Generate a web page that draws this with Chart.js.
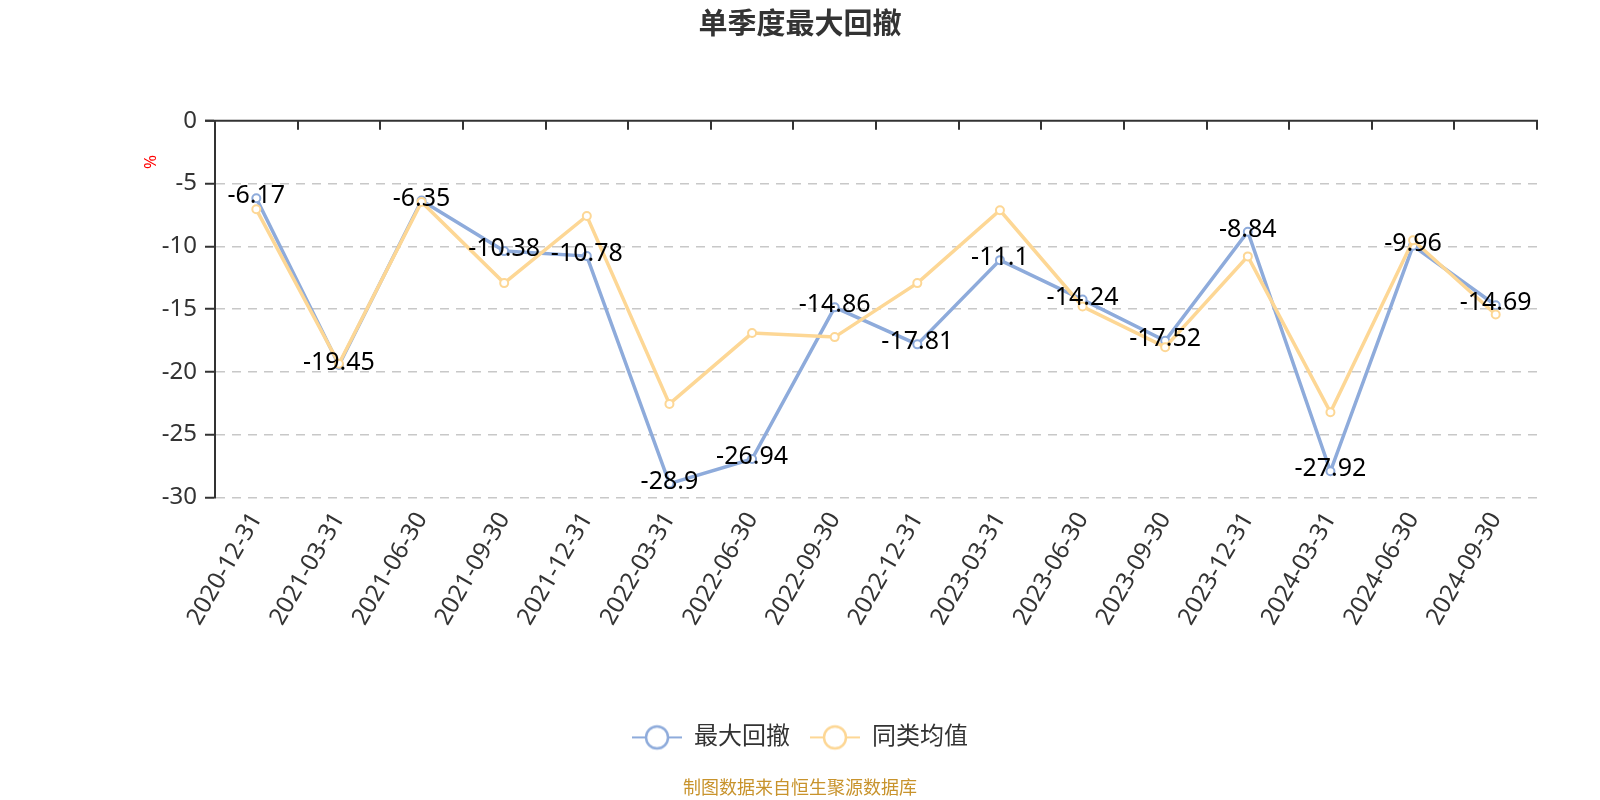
<!DOCTYPE html>
<html>
<head>
<meta charset="utf-8">
<script src="https://cdn.jsdelivr.net/npm/chart.js@4.4.1/dist/chart.umd.min.js"></script>
<style>
  html, body { margin: 0; padding: 0; background: #fff; }
  #wrap { width: 1600px; height: 800px; }
</style>
</head>
<body>
<div id="wrap"><canvas id="ddChart" width="1600" height="800"></canvas></div>
<script>
const quarters = ['2020-12-31', '2021-03-31', '2021-06-30', '2021-09-30', '2021-12-31', '2022-03-31',
  '2022-06-30', '2022-09-30', '2022-12-31', '2023-03-31', '2023-06-30', '2023-09-30',
  '2023-12-31', '2024-03-31', '2024-06-30', '2024-09-30'];
const maxDrawdown = [-6.17, -19.45, -6.35, -10.38, -10.78, -28.9, -26.94, -14.86, -17.81, -11.1,
  -14.24, -17.52, -8.84, -27.92, -9.96, -14.69];
const peerAvg = [-7.05, -19.35, -6.46, -12.93, -7.58, -22.55, -16.91, -17.23, -12.93, -7.13,
  -14.79, -18.03, -10.8, -23.22, -9.52, -15.43];
const seriesNames = ['最大回撤', '同类均值'];
const yMin = -30, yMax = 0, yStep = 5;

const BLUE = '#8eabdb';
const YELLOW = '#fdd795';
const FONT = '"Microsoft YaHei", "Noto Sans", "Noto Sans CJK SC", sans-serif';

Chart.defaults.font.family = FONT;

// legend icon: short line with a hollow circle
function legendIcon(color) {
  const c = document.createElement('canvas');
  c.width = 50; c.height = 28;
  const g = c.getContext('2d');
  g.strokeStyle = color;
  g.lineWidth = 2;
  g.beginPath(); g.moveTo(0, 14); g.lineTo(50, 14); g.stroke();
  g.beginPath(); g.arc(25, 14, 11, 0, Math.PI * 2);
  g.fillStyle = '#fff'; g.fill();
  g.lineWidth = 2.5; g.stroke();
  return c;
}
const icons = [legendIcon(BLUE), legendIcon(YELLOW)];

// top axis line at 0 with band ticks, plus the "%" unit
const axisDecor = {
  id: 'axisDecor',
  afterDatasetsDraw(chart) {
    const {ctx, chartArea: a, scales: {x, y}} = chart;
    const y0 = y.getPixelForValue(0);
    const band = x.getPixelForValue(1) - x.getPixelForValue(0);
    ctx.save();
    ctx.strokeStyle = '#333';
    ctx.lineWidth = 2;
    ctx.beginPath();
    ctx.moveTo(a.left - 10, y0);
    ctx.lineTo(a.right + 1, y0);
    for (let i = 0; i <= quarters.length; i++) {
      const px = Math.round(x.getPixelForValue(0) - band / 2 + i * band);
      ctx.moveTo(px, y0);
      ctx.lineTo(px, y0 + 9);
    }
    ctx.stroke();

    ctx.translate(151, 162);
    ctx.rotate(-Math.PI / 2);
    ctx.fillStyle = '#ff0000';
    ctx.font = '17px ' + FONT;
    ctx.textAlign = 'center';
    ctx.textBaseline = 'middle';
    ctx.fillText('%', 0, 0);
    ctx.restore();
  }
};

const valueLabels = {
  id: 'valueLabels',
  afterDatasetsDraw(chart) {
    const {ctx} = chart;
    const meta = chart.getDatasetMeta(0);
    if (meta.hidden) return;
    ctx.save();
    ctx.font = '25px ' + FONT;
    ctx.fillStyle = '#000';
    ctx.textAlign = 'center';
    ctx.textBaseline = 'middle';
    meta.data.forEach((pt, i) => {
      ctx.fillText(String(maxDrawdown[i]), pt.x, pt.y - 2);
    });
    ctx.restore();
  }
};

new Chart(document.getElementById('ddChart'), {
  type: 'line',
  data: {
    labels: quarters,
    datasets: [
      {
        label: seriesNames[0],
        data: maxDrawdown,
        borderColor: BLUE,
        backgroundColor: '#fff',
        borderWidth: 3.5,
        pointRadius: 4,
        pointBorderWidth: 2,
        pointBackgroundColor: '#fff',
        pointBorderColor: BLUE,
        tension: 0,
        order: 2
      },
      {
        label: seriesNames[1],
        data: peerAvg,
        borderColor: YELLOW,
        backgroundColor: '#fff',
        borderWidth: 3.5,
        pointRadius: 4,
        pointBorderWidth: 2,
        pointBackgroundColor: '#fff',
        pointBorderColor: YELLOW,
        tension: 0,
        order: 1
      }
    ]
  },
  options: {
    responsive: false,
    animation: false,
    layout: { padding: 0 },
    plugins: {
      title: {
        display: true,
        text: '单季度最大回撤',
        color: '#333',
        font: { size: 29, weight: 'bold' },
        padding: { top: 8, bottom: 78 }
      },
      subtitle: {
        display: true,
        position: 'bottom',
        text: '制图数据来自恒生聚源数据库',
        color: '#c8932c',
        font: { size: 18 },
        padding: { top: 19, bottom: 0 }
      },
      legend: {
        position: 'bottom',
        labels: {
          usePointStyle: true,
          pointStyleWidth: 50,
          padding: 20,
          color: '#333',
          font: { size: 24 },
          generateLabels: chart => chart.data.datasets.map((ds, i) => ({
            text: ds.label,
            pointStyle: icons[i],
            datasetIndex: i,
            hidden: !chart.isDatasetVisible(i),
            fontColor: '#333',
            lineWidth: 0,
            strokeStyle: 'transparent',
            fillStyle: 'transparent'
          }))
        }
      },
      tooltip: { enabled: false }
    },
    scales: {
      x: {
        offset: true,
        grid: { display: false, drawTicks: false },
        border: { display: false },
        ticks: {
          autoSkip: false,
          minRotation: 60,
          maxRotation: 60,
          padding: 10,
          color: '#333',
          font: { size: 24 }
        },
        afterFit: s => { s.height = 208; }
      },
      y: {
        min: yMin,
        max: yMax,
        ticks: {
          stepSize: yStep,
          padding: 8,
          color: '#333',
          font: { size: 24 }
        },
        grid: {
          color: c => (c.tick && c.tick.value === 0 ? 'rgba(0,0,0,0)' : '#c8c8c8'),
          lineWidth: 1.5,
          tickColor: '#333',
          tickLength: 10,
          tickWidth: 2
        },
        border: { display: true, color: '#333', width: 2, dash: [9, 7] },
        afterFit: s => { s.width = 215; }
      },
      // empty right-hand gutter so the plot ends where the original does
      yRight: {
        type: 'linear',
        position: 'right',
        grid: { display: false },
        border: { display: false },
        ticks: { display: false },
        afterFit: s => { s.width = 63; }
      }
    }
  },
  plugins: [axisDecor, valueLabels]
});
</script>
</body>
</html>
